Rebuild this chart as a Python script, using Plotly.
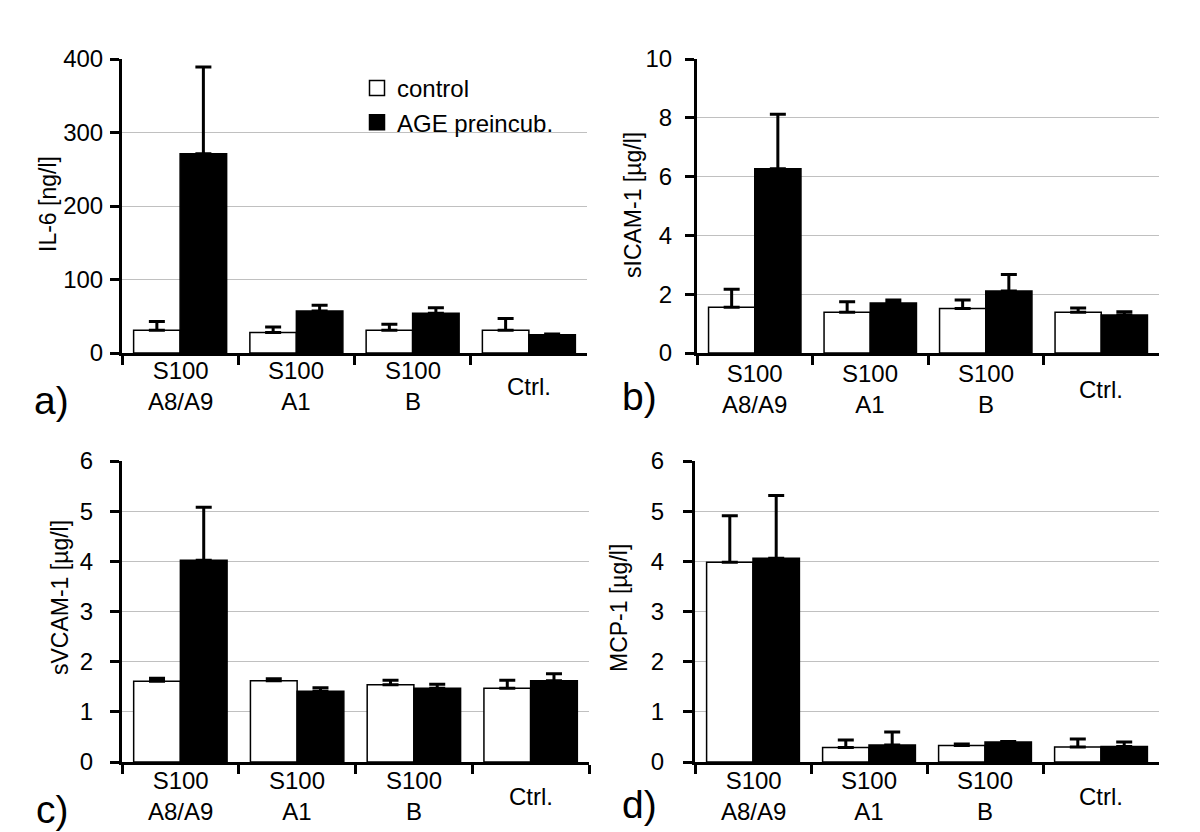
import plotly.graph_objects as go
from plotly.subplots import make_subplots

W, H = 1200, 832

categories = ["A8/A9", "A1", "B", "Ctrl"]
x_labels = ["S100<br>A8/A9", "S100<br>A1", "S100<br>B", "Ctrl."]
series_names = ["control", "AGE preincub."]
series_fills = ["white", "black"]

# panel a: IL-6 [ng/l]
il6_ctrl = [31, 28, 31, 31]
il6_ctrl_err = [12, 7.5, 8, 16]
il6_age = [271, 57, 54, 25]
il6_age_err = [118, 8, 7.5, 1]

# panel b: sICAM-1 [µg/l]
icam_ctrl = [1.56, 1.39, 1.51, 1.39]
icam_ctrl_err = [0.61, 0.35, 0.29, 0.14]
icam_age = [6.27, 1.70, 2.11, 1.29]
icam_age_err = [1.85, 0.10, 0.56, 0.11]

# panel c: sVCAM-1 [µg/l]
vcam_ctrl = [1.61, 1.62, 1.54, 1.47]
vcam_ctrl_err = [0.06, 0.04, 0.09, 0.16]
vcam_age = [4.02, 1.41, 1.47, 1.62]
vcam_age_err = [1.06, 0.07, 0.08, 0.14]

# panel d: MCP-1 [µg/l]
mcp_ctrl = [3.98, 0.29, 0.33, 0.30]
mcp_ctrl_err = [0.93, 0.15, 0.03, 0.16]
mcp_age = [4.06, 0.34, 0.40, 0.31]
mcp_age_err = [1.25, 0.26, 0.01, 0.09]

panels = [
    (il6_ctrl, il6_ctrl_err, il6_age, il6_age_err, 400, 100, "IL-6 [ng/l]", "a)"),
    (icam_ctrl, icam_ctrl_err, icam_age, icam_age_err, 10, 2, "sICAM-1 [µg/l]", "b)"),
    (vcam_ctrl, vcam_ctrl_err, vcam_age, vcam_age_err, 6, 1, "sVCAM-1 [µg/l]", "c)"),
    (mcp_ctrl, mcp_ctrl_err, mcp_age, mcp_age_err, 6, 1, "MCP-1 [µg/l]", "d)"),
]

# pixel boxes: x0, x1, ytop, ybottom, title x, title y, letter x, letter y, xlabel y, label standoff
geom = [
    (114, 579, 51, 345, 40, 196, 24, 392, 378, 2),
    (689, 1151, 51, 345, 625, 197, 612, 388, 381, 8),
    (114, 581, 453, 754, 52, 590, 26, 801, 788, 12),
    (687, 1151, 453, 754, 611, 600, 612, 796, 788, 14),
]

FONT = "Liberation Sans, Arial, sans-serif"

fig = make_subplots(rows=2, cols=2)

annotations = []
for i, (c, ce, a, ae, ymax, dtick, ytitle, letter) in enumerate(panels):
    r, col = i // 2 + 1, i % 2 + 1
    for vals, errs, fill, name in [(c, ce, series_fills[0], series_names[0]),
                                   (a, ae, series_fills[1], series_names[1])]:
        fig.add_trace(go.Bar(
            x=categories, y=vals, name=name, showlegend=False,
            marker=dict(color=fill, line=dict(color="black", width=1.5)),
            error_y=dict(type="data", array=errs, arrayminus=[0] * len(errs), symmetric=False,
                         color="black", thickness=3, width=8),
        ), row=r, col=col)

    x0, x1, yt, yb, tx, ty, lx, ly, xly, standoff = geom[i]
    sfx = "" if i == 0 else str(i + 1)
    fig.layout["xaxis" + sfx].update(
        domain=[x0 / W, x1 / W], range=[-0.5, 3.5], type="category", automargin=False,
        showline=True, linecolor="black", linewidth=3,
        ticks="outside", tickson="boundaries", ticklen=9, tickwidth=3, tickcolor="black",
        showticklabels=False, showgrid=False, zeroline=False,
    )
    fig.layout["yaxis" + sfx].update(
        domain=[1 - yb / H, 1 - yt / H], range=[0, ymax], dtick=dtick, automargin=False,
        showline=True, linecolor="black", linewidth=3,
        ticks="outside", ticklen=9, tickwidth=3, tickcolor="black",
        ticklabelstandoff=standoff,
        showgrid=True, gridcolor="#c0c0c0", gridwidth=1, zeroline=False,
        tickfont=dict(size=24, color="black", family=FONT),
    )
    xref = "x" + sfx
    for cat, lab in zip(categories, x_labels):
        annotations.append(dict(x=cat, xref=xref, y=1 - xly / H, yref="paper", text=lab,
                                showarrow=False, xanchor="center", yanchor="middle",
                                font=dict(size=24, color="black", family=FONT)))
    annotations.append(dict(x=tx / W, y=1 - ty / H, xref="paper", yref="paper", text=ytitle,
                            textangle=-90, showarrow=False, xanchor="center", yanchor="middle",
                            font=dict(size=23, color="black", family=FONT)))
    annotations.append(dict(x=lx / W, y=1 - ly / H, xref="paper", yref="paper", text=letter,
                            showarrow=False, xanchor="left", yanchor="middle",
                            font=dict(size=39, color="black", family=FONT)))

# legend entries with larger square swatches
for name, fill in zip(series_names, series_fills):
    fig.add_trace(go.Scatter(
        x=[None], y=[None], mode="markers", name=name,
        marker=dict(symbol="square", size=15, color=fill, line=dict(color="black", width=1.5)),
    ), row=1, col=1)

fig.update_layout(
    width=W, height=H, margin=dict(l=0, r=0, t=0, b=0),
    paper_bgcolor="white", plot_bgcolor="white",
    barmode="group", bargap=0.2, bargroupgap=0,
    annotations=annotations,
    legend=dict(x=349 / W, y=1 - 58 / H, xanchor="left", yanchor="top",
                font=dict(size=24, color="black", family=FONT),
                bgcolor="rgba(0,0,0,0)", tracegroupgap=0),
    font=dict(family=FONT, color="black"),
)

fig.write_html("out.html")
